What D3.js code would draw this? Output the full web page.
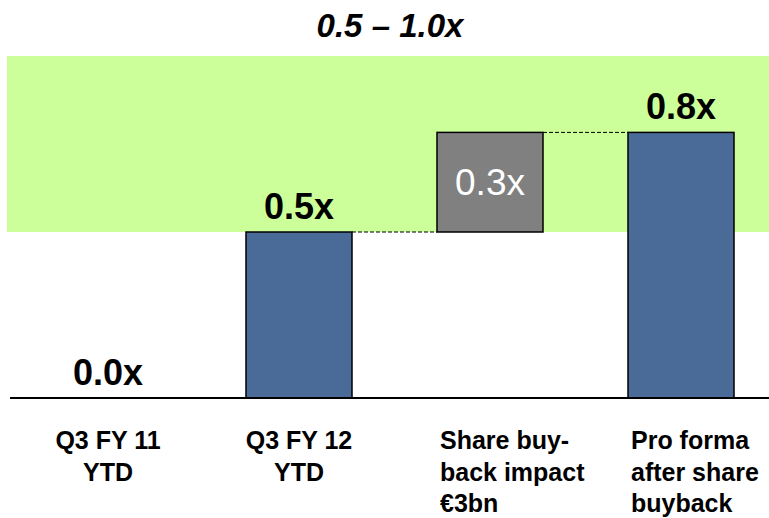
<!DOCTYPE html>
<html>
<head>
<meta charset="utf-8">
<script src="https://cdn.jsdelivr.net/npm/d3@7"></script>
<style>
  body { margin: 0; background: #fff; }
  text { font-family: Arial, "Liberation Sans", sans-serif; }
</style>
</head>
<body>
<div id="chart"></div>
<script>
var svgWidth = 769;
var svgHeight = 518;

// data
var categories = ["q3fy11", "q3fy12", "buyback", "proforma"];
var categoryLines = [
  ["Q3 FY 11", "YTD"],
  ["Q3 FY 12", "YTD"],
  ["Share buy-", "back impact", "€3bn"],
  ["Pro forma", "after share", "buyback"]
];
var barStart = [0, 0, 0.5, 0];
var barEnd = [0, 0.5, 0.8, 0.8];
var valueLabels = ["0.0x", "0.5x", "0.3x", "0.8x"];
var barKind = ["total", "total", "delta", "total"];
var targetBand = [0.5, 1.03];
var titleText = "0.5 – 1.0x";

var svg = d3.select("#chart")
  .append("svg")
  .attr("width", svgWidth)
  .attr("height", svgHeight);

var x = d3.scaleBand()
  .domain(categories)
  .range([12.5, 776.5])
  .paddingInner(0.445)
  .paddingOuter(0.2225);

var y = d3.scaleLinear()
  .domain([0, 1])
  .range([398, 66]);

// target range band
svg.append("rect")
  .attr("x", 7)
  .attr("y", y(targetBand[1]))
  .attr("width", svgWidth - 7)
  .attr("height", y(targetBand[0]) - y(targetBand[1]))
  .attr("fill", "#ccff99");

// title
svg.append("text")
  .attr("x", 390)
  .attr("y", 37)
  .attr("text-anchor", "middle")
  .attr("font-size", "33px")
  .attr("font-weight", "bold")
  .attr("font-style", "italic")
  .text(titleText);

// connectors
for (var i = 0; i < categories.length - 1; i++) {
  var level = barEnd[i];
  if (level === 0) continue;
  svg.append("line")
    .attr("x1", x(categories[i]) + x.bandwidth())
    .attr("x2", x(categories[i + 1]))
    .attr("y1", y(level))
    .attr("y2", y(level))
    .attr("stroke", "#000")
    .attr("stroke-width", 1)
    .attr("stroke-dasharray", "4,2");
}

// bars
var data = categories.map(function(c, i) {
  return { cat: c, start: barStart[i], end: barEnd[i], label: valueLabels[i], kind: barKind[i] };
});

svg.selectAll(".bar")
  .data(data.filter(d => d.end > d.start))
  .enter()
  .append("rect")
  .attr("class", "bar")
  .attr("x", d => x(d.cat))
  .attr("y", d => y(d.end))
  .attr("width", x.bandwidth())
  .attr("height", d => y(d.start) - y(d.end))
  .attr("fill", d => d.kind === "delta" ? "#808080" : "#4a6a98")
  .attr("stroke", "#000")
  .attr("stroke-width", 1.5);

// value labels
svg.selectAll(".vlabel")
  .data(data)
  .enter()
  .append("text")
  .attr("class", "vlabel")
  .attr("x", d => x(d.cat) + x.bandwidth() / 2)
  .attr("y", function(d) {
    if (d.kind === "delta") return (y(d.start) + y(d.end)) / 2 + 13;
    return y(d.end) - 13;
  })
  .attr("text-anchor", "middle")
  .attr("font-size", d => d.kind === "delta" ? "37px" : "36px")
  .attr("font-weight", d => d.kind === "delta" ? "normal" : "bold")
  .attr("fill", d => d.kind === "delta" ? "#fff" : "#000")
  .text(d => d.label);

// baseline
svg.append("line")
  .attr("x1", 10)
  .attr("x2", svgWidth)
  .attr("y1", y(0))
  .attr("y2", y(0))
  .attr("stroke", "#000")
  .attr("stroke-width", 2);

// category labels
categoryLines.forEach(function(lines, i) {
  var centered = i < 2;
  var t = svg.append("text")
    .attr("font-size", "25px")
    .attr("font-weight", "bold")
    .attr("text-anchor", centered ? "middle" : "start");
  lines.forEach(function(line, j) {
    t.append("tspan")
      .attr("x", centered ? x(categories[i]) + x.bandwidth() / 2 : x(categories[i]) + 3)
      .attr("y", 449 + j * 31.5)
      .text(line);
  });
});
</script>
</body>
</html>
